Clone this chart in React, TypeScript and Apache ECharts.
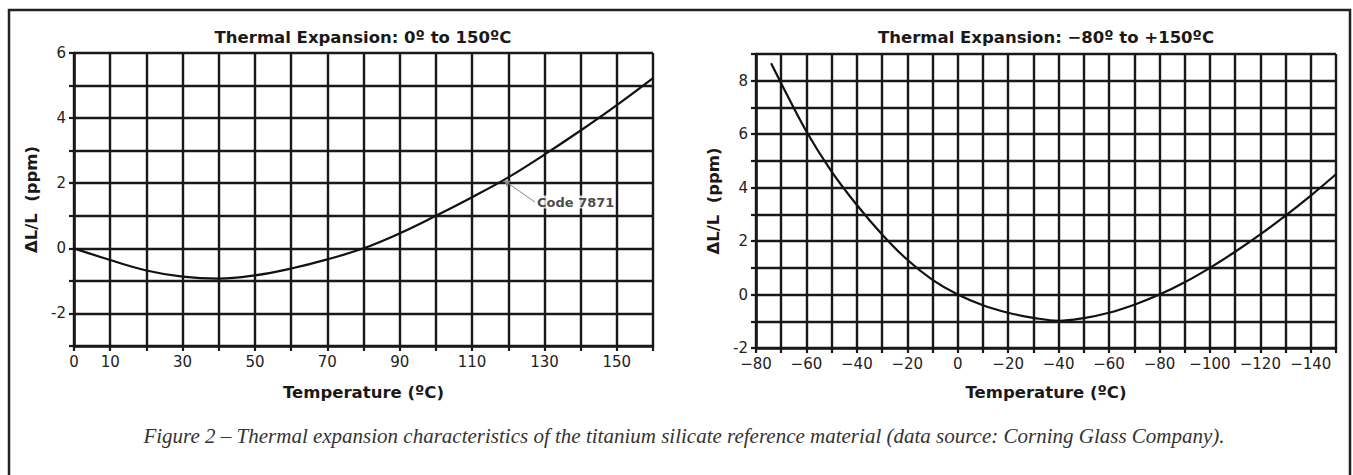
import React, { useEffect, useRef } from "react";
import * as echarts from "echarts";

// Left panel: 0 to 150 °C
const leftTemps = [0, 10, 20, 30, 40, 50, 60, 70, 80, 90, 100, 110, 120, 130, 140, 150, 160];
const leftDelta = [0, -0.36, -0.68, -0.87, -0.93, -0.83, -0.62, -0.34, 0, 0.46, 1.0, 1.57, 2.18, 2.88, 3.62, 4.4, 5.23];

// Right panel: -80 to +150 °C
const rightTemps = [-74, -70, -60, -50, -40, -30, -20, -10, 0, 10, 20, 30, 40, 50, 60, 70, 80, 90, 100, 110, 120, 130, 140, 150];
const rightDelta = [8.65, 7.9, 6.1, 4.6, 3.35, 2.25, 1.3, 0.55, 0, -0.4, -0.68, -0.87, -0.98, -0.88, -0.68, -0.38, 0, 0.46, 1.0, 1.6, 2.25, 2.95, 3.7, 4.5];

const leftXLabels = [0, 10, 30, 50, 70, 90, 110, 130, 150];
const rightXLabels = [-80, -60, -40, -20, 0, 20, 40, 60, 80, 100, 120, 140];
const yLabelsEven = [-2, 0, 2, 4, 6, 8];

const annotationFrom = [118.9, 2.08];
const annotationTo = [127.4, 1.42];
const annotationText = "Code 7871";

const leftTitle = "Thermal Expansion: 0º to 150ºC";
const rightTitle = "Thermal Expansion: \u221280º to +150ºC";
const xName = "Temperature (ºC)";
const yName = "\u0394L/L  (ppm)";
const caption =
  "Figure 2 \u2013 Thermal expansion characteristics of the titanium silicate reference material (data source: Corning Glass Company).";

const INK = "#1a1818";
const boldFont = "DejaVu Sans";
const tickFont = "DejaVu Sans";

export default function App() {
  const ref = useRef<HTMLDivElement>(null);

  useEffect(() => {
    document.body.style.margin = "0";
    const chart = echarts.init(ref.current!, null, { renderer: "svg" });

    const gridLine = { show: true, lineStyle: { color: INK, width: 2.4 } };
    const axisLine = { show: true, onZero: false, lineStyle: { color: INK, width: 2.6 } };
    const axisTick = { show: true, length: 5, lineStyle: { color: INK, width: 2.2 } };
    const tickLabel = { color: "#222", fontFamily: tickFont, fontSize: 15 };
    const nameStyle = { color: INK, fontFamily: boldFont, fontWeight: "bold", fontSize: 16.5 };

    const option: any = {
      animation: false,
      backgroundColor: "#fff",
      grid: [
        { left: 74, top: 53, width: 579, height: 293 },
        { left: 756, top: 54, width: 580, height: 294 },
      ],
      xAxis: [
        {
          type: "value", gridIndex: 0, min: 0, max: 160, interval: 10,
          axisLine, axisTick, splitLine: gridLine,
          axisLabel: {
            ...tickLabel, margin: 8,
            formatter: (v: number) => (leftXLabels.includes(v) ? String(v) : ""),
          },
          name: xName, nameLocation: "middle", nameGap: 38, nameTextStyle: nameStyle,
        },
        {
          type: "value", gridIndex: 1, min: -80, max: 150, interval: 10,
          axisLine, axisTick, splitLine: gridLine,
          axisLabel: {
            ...tickLabel, margin: 8,
            formatter: (v: number) =>
              rightXLabels.includes(v) ? (v === 0 ? "0" : "\u2212" + Math.abs(v)) : "",
          },
          name: xName, nameLocation: "middle", nameGap: 36, nameTextStyle: nameStyle,
        },
      ],
      yAxis: [
        {
          type: "value", gridIndex: 0, min: -3, max: 6, interval: 1,
          axisLine, axisTick, splitLine: gridLine,
          axisLabel: {
            ...tickLabel, margin: 8,
            formatter: (v: number) => (yLabelsEven.includes(v) ? String(v) : ""),
          },
          name: yName, nameLocation: "middle", nameGap: 34, nameRotate: 90, nameTextStyle: nameStyle,
        },
        {
          type: "value", gridIndex: 1, min: -2, max: 9, interval: 1,
          axisLine, axisTick, splitLine: gridLine,
          axisLabel: {
            ...tickLabel, margin: 8,
            formatter: (v: number) => (yLabelsEven.includes(v) ? String(v) : ""),
          },
          name: yName, nameLocation: "middle", nameGap: 34, nameRotate: 90, nameTextStyle: nameStyle,
        },
      ],
      series: [
        {
          type: "line", xAxisIndex: 0, yAxisIndex: 0, smooth: 0.4, symbol: "none",
          lineStyle: { color: "#111", width: 2.2 },
          data: leftTemps.map((t, i) => [t, leftDelta[i]]),
          z: 5,
          markLine: {
            silent: true,
            symbol: ["arrow", "none"],
            symbolSize: 6,
            label: { show: false },
            lineStyle: { color: "#888", width: 1, type: "solid" },
            data: [[{ coord: annotationFrom }, { coord: annotationTo }]],
          },
        },
        {
          type: "scatter", xAxisIndex: 0, yAxisIndex: 0, symbolSize: 0,
          data: [annotationTo],
          label: {
            show: true, position: "right", distance: 2,
            formatter: annotationText,
            color: INK, fontFamily: boldFont, fontWeight: "bold", fontSize: 13,
            backgroundColor: "#fff",
          },
          z: 6,
        },
        {
          type: "line", xAxisIndex: 1, yAxisIndex: 1, smooth: 0.4, symbol: "none",
          lineStyle: { color: "#111", width: 2.2 },
          data: rightTemps.map((t, i) => [t, rightDelta[i]]),
          z: 5,
        },
      ],
      graphic: [
        {
          type: "rect", shape: { x: 9, y: 10, width: 1341, height: 480 },
          style: { fill: "none", stroke: "#222", lineWidth: 2.5 }, silent: true,
        },
        {
          type: "text", x: 363, y: 37,
          style: { text: leftTitle, fill: INK, font: `bold 16.5px "${boldFont}"`, textAlign: "center", textVerticalAlign: "middle" },
        },
        {
          type: "text", x: 1046, y: 37,
          style: { text: rightTitle, fill: INK, font: `bold 16.5px "${boldFont}"`, textAlign: "center", textVerticalAlign: "middle" },
        },
        {
          type: "text", x: 684, y: 436,
          style: { text: caption, fill: "#333", font: `italic 21px "Liberation Serif"`, textAlign: "center", textVerticalAlign: "middle" },
        },
      ],
    };

    chart.setOption(option);
    return () => chart.dispose();
  }, []);

  return <div ref={ref} style={{ width: 1353, height: 475 }} />;
}
